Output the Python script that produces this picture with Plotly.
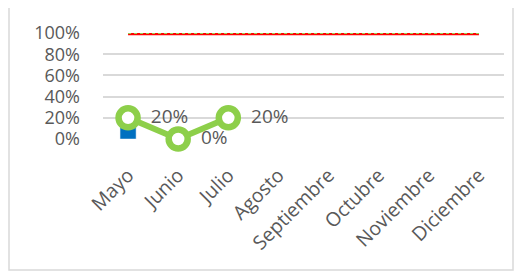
import plotly.graph_objects as go

months = ["Mayo", "Junio", "Julio", "Agosto", "Septiembre", "Octubre", "Noviembre", "Diciembre"]
bar_values = [0.20, None, None, None, None, None, None, None]
line_values = [0.20, 0.0, 0.20]
line_labels = ["20%", "0%", "20%"]
target_values = [1.0] * 8
y_ticks = [0, 0.2, 0.4, 0.6, 0.8, 1.0]

gray = "#595959"
# page body has an 8px default margin; offsets below compensate for it
off = 8
fig = go.Figure()
fig.add_trace(go.Bar(x=months, y=bar_values, marker_color="#0070C0", width=0.32, showlegend=False))
fig.add_trace(go.Scatter(x=months, y=target_values, mode="lines",
                         line=dict(color="#FF0000", width=4.5), showlegend=False, cliponaxis=False))
fig.add_trace(go.Scatter(x=months, y=target_values, mode="lines",
                         line=dict(color="#92D050", width=2, dash="dot"), showlegend=False, cliponaxis=False))
fig.add_trace(go.Scatter(x=months[:3], y=line_values, mode="lines+markers+text",
                         text=["  " + t for t in line_labels], textposition="middle right",
                         textfont=dict(size=19, color=gray, family="Open Sans"),
                         line=dict(color="#8DCF4A", width=6),
                         marker=dict(size=19, color="white", line=dict(color="#8DCF4A", width=6.5)),
                         showlegend=False, cliponaxis=False))

fig.update_layout(
    width=523, height=273,
    margin=dict(l=103 - off, r=19 + off, t=33 - off, b=134 + off),
    paper_bgcolor="white", plot_bgcolor="white",
    font=dict(family="Open Sans", color=gray),
    bargap=0.6,
    xaxis=dict(type="category", categoryorder="array", categoryarray=months,
               range=[-0.5, 7.5], tickangle=-45, tickfont=dict(size=19.5, color=gray),
               showgrid=False, showline=False, ticks="", automargin=False,
               ticklabelstandoff=20),
    yaxis=dict(range=[0, 1.0], tickvals=y_ticks, tickformat=".0%",
               tickfont=dict(size=18, color=gray), gridcolor="#D9D9D9", gridwidth=2,
               zeroline=False, showline=False, ticklabelstandoff=22, automargin=False),
    shapes=[dict(type="rect", xref="paper", yref="paper",
                 x0=(9 - 103) / 401, x1=(513 - 103) / 401,
                 y0=(139 - 270) / 106, y1=(139 - 4) / 106,
                 line=dict(color="#D9D9D9", width=1.5), fillcolor="rgba(0,0,0,0)", layer="below")],
)
fig.write_html("out.html")
